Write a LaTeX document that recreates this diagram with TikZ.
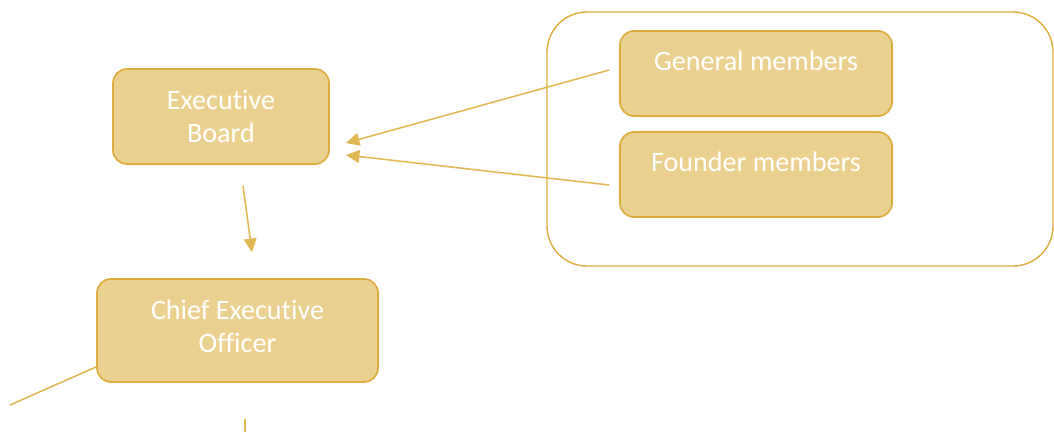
\documentclass[tikz,border=0pt]{standalone}
\usepackage{fontspec}
\setmainfont[Ligatures=NoCommon]{Carlito}
\usetikzlibrary{arrows.meta,positioning,calc}

\definecolor{boxfill}{RGB}{235,209,143}
\definecolor{boxline}{RGB}{222,172,62}
\definecolor{linkline}{RGB}{226,184,84}

\begin{document}
\begin{tikzpicture}[%
    x=0.25mm, y=-0.25mm,        % work in pixels, y grows downwards
    >={Triangle[length=3.4mm,width=3.2mm]},
    ]
% -------------------------------------------------
% Box styles
\tikzset{
  base/.style={draw=boxline, fill=boxfill, line width=1.2pt, rounded corners=3.5mm,
    align=center, text=white, font=\fontsize{20}{23.5}\selectfont},
  role/.style={base, minimum width=54mm, minimum height=23.75mm},
  member/.style={base, minimum width=68mm, minimum height=21.25mm, text depth=6.3mm},
  group/.style={draw=boxline, line width=1pt, rounded corners=10mm,
    minimum width=126.5mm, minimum height=63.5mm},
  % Connector line style
  link/.style={draw=linkline, line width=1.1pt},
  linkto/.style={link, ->},
}
\useasboundingbox (0,0) rectangle (1054,432);
% -------------------------------------------------
% Start by placing the nodes
\node [group] (members) at (800,139) {};
\node [role] (board) at (221,116.5) {Executive\\Board};
\node [role, minimum width=70.25mm, minimum height=25.75mm, text depth=2mm] (ceo) at (237.5,330.5) {Chief Executive\\Officer};
\node [member] (general) at (756,73.5) {General members};
\node [member] (founder) at (756,174.5) {Founder members};
% loose ends leaving the picture
\coordinate (offleft) at (10,405);
\coordinate (offdown) at (245,432);

\draw[linkto] ([shift={(-10,-3.5)}]general.west) -- ([shift={(16,26.5)}]board.east);	%General,Board
\draw[linkto] ([shift={(-10,10.5)}]founder.west) -- ([shift={(16,38.5)}]board.east);	%Founder,Board
\draw[linkto] ([shift={(22,21)}]board.south) -- ([shift={(14.5,-26)}]ceo.north);	%Board,CEO
\draw[link] ([yshift=-9.1mm]ceo.west) -- (offleft);	%CEO,left
\draw[link] ([shift={(7.5,36)}]ceo.south) -- (offdown);	%CEO,down
% -------------------------------------------------
\end{tikzpicture}
\end{document}
